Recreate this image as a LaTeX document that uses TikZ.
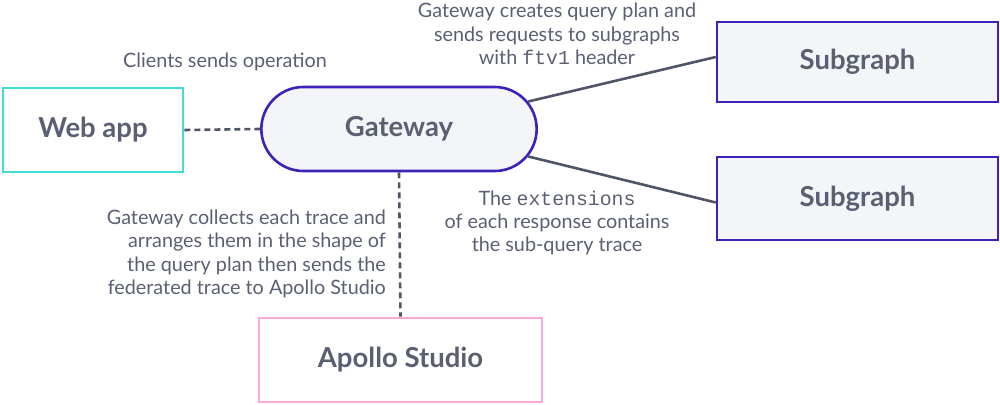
\documentclass[tikz,border=0pt]{standalone}
\usepackage{fontspec}
\setmainfont{Lato}
\setmonofont{Liberation Mono}
\usetikzlibrary{shapes.misc}

\definecolor{inkgray}{HTML}{5A6072}
\definecolor{linegray}{HTML}{4F5567}
\definecolor{apollopurple}{HTML}{3F20BA}
\definecolor{webteal}{HTML}{41DCD5}
\definecolor{studiopink}{HTML}{F9A8DC}
\definecolor{boxfill}{HTML}{F4F5F8}

\tikzset{
    box/.style={draw, line width=2.6pt, minimum height=84pt, text=inkgray, font=\fontsize{27.5}{30}\selectfont\bfseries},
    service/.style={box, draw=apollopurple, fill=boxfill, minimum width=281pt},
    note/.style={text=inkgray, align=center, font=\fontsize{19.8}{23.3}\selectfont, inner sep=0pt},
    link/.style={draw=linegray, line width=2.6pt},
    dotlink/.style={link, dash pattern=on 6pt off 4pt}
}

\begin{document}
\begin{tikzpicture}[x=1pt, y=-1pt]
    \useasboundingbox (0,0) rectangle (1000,404);

    % Boxes
    \node[box, draw=webteal, fill=white, minimum width=180pt] (web) at (93,130) {Web app};
    \node[box, draw=apollopurple, fill=boxfill, rounded rectangle, minimum width=282pt] (gw) at (399,129) {Gateway};
    \node[service, minimum height=80pt] (sg1) at (857.5,62) {Subgraph};
    \node[service, minimum height=83pt] (sg2) at (857.5,198.5) {Subgraph};
    \node[box, draw=studiopink, fill=white, minimum width=283pt] (studio) at (400.5,360) {Apollo Studio};

    % Connectors
    \draw[dotlink] (web.east) -- (gw.west);
    \draw[link] (gw.12) -- ([yshift=5pt]sg1.west);
    \draw[link] (gw.-12) -- ([yshift=-4pt]sg2.west);
    \draw[dotlink] (gw.south) -- (studio.north);

    % Notes
    \node[note] (opnote) at (225,62) {Clients sends operation};
    \node[note] (plannote) at (557,34) {Gateway creates query plan and\\sends requests to subgraphs\\with \texttt{ftv1} header};
    \node[note, align=right, anchor=east] (tracenote) at (386,254) {Gateway collects each trace and\\arranges them in the shape of\\the query plan then sends the\\federated trace to Apollo Studio};
    \node[note] (extnote) at (557,223) {The \texttt{extensions}\\of each response contains\\the sub-query trace};

\end{tikzpicture}
\end{document}
